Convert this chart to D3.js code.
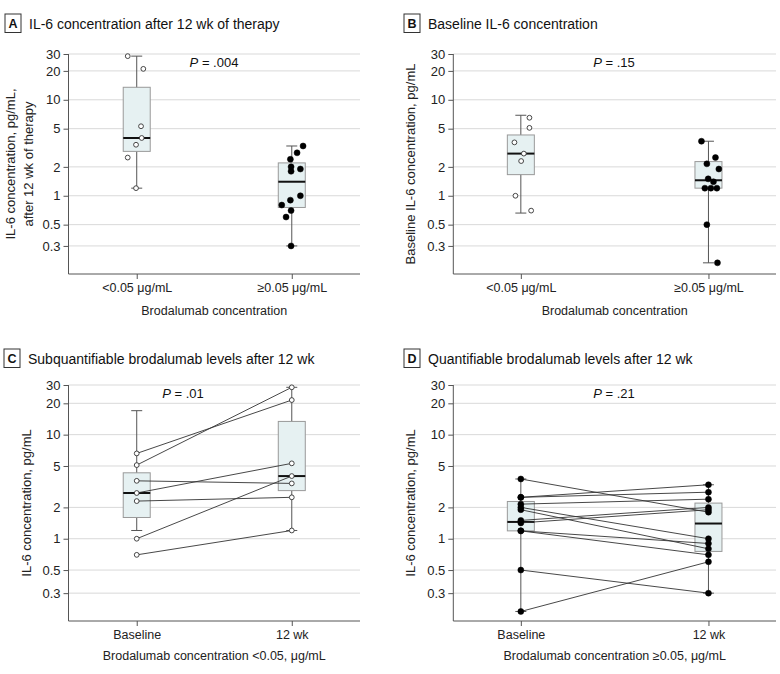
<!DOCTYPE html>
<html><head><meta charset="utf-8">
<script src="https://cdn.jsdelivr.net/npm/d3@7"></script>
<style>
body{margin:0;background:#fff;}
svg{font-family:"Liberation Sans",Arial,sans-serif;}
</style></head><body>
<svg id="chart" width="780" height="674"></svg>
<script>
// ---- shared axis ticks ----
const yTicks = [0.3, 0.5, 1, 2, 5, 10, 20, 30];
const yTickLabels = ["0.3", "0.5", "1", "2", "5", "10", "20", "30"];

// ---- Panel A: IL-6 after 12 wk by brodalumab concentration ----
const catsA = ["<0.05 μg/mL", "≥0.05 μg/mL"];
const aLowValues = [28.5, 21, 5.3, 4.0, 3.4, 2.5, 1.2];
const aLowJitter = [-9, 6.6, 4.3, 5, -0.7, -9, -0.7];
const aHighValues = [3.3, 2.8, 2.4, 2.0, 1.9, 1.8, 1.0, 0.9, 0.8, 0.7, 0.6, 0.3];
const aHighJitter = [11.3, 5.3, -1.4, -0.7, 8.6, -0.7, 8.6, -1.4, -10, -0.7, -5.7, -0.7];
// box stats: [whisker low, Q1, median, Q3, whisker high]
const aLowBox = [1.2, 2.9, 4.0, 13.5, 28.5];
const aHighBox = [0.3, 0.755, 1.4, 2.2, 3.3];

// ---- Panel B: baseline IL-6 ----
const catsB = ["<0.05 μg/mL", "≥0.05 μg/mL"];
const bLowValues = [6.5, 5.1, 3.6, 2.75, 2.3, 1.0, 0.7];
const bLowJitter = [8.6, 8.6, -6.4, 3, 0.3, -5.4, 10.3];
const bHighValues = [3.7, 2.5, 2.15, 1.9, 1.5, 1.4, 1.2, 1.2, 1.2, 0.5, 0.2];
const bHighJitter = [-7, 7, -1.6, 10.4, -0.3, 5, -3.6, 2.4, 8.4, -1.6, 9];
const bLowBox = [0.66, 1.66, 2.75, 4.3, 6.9];
const bHighBox = [0.2, 1.2, 1.45, 2.27, 3.7];

// ---- Panel C: subquantifiable, paired ----
const catsC = ["Baseline", "12 wk"];
const cBaseline = [6.6, 5.1, 3.6, 2.75, 2.3, 1.0, 0.7];
const c12wk = [21.5, 28.5, 3.4, 5.3, 2.5, 4.0, 1.2];
const cBaseBox = [1.2, 1.6, 2.75, 4.3, 17];
const c12Box = [1.2, 2.9, 4.0, 13.4, 28.5];

// ---- Panel D: quantifiable, paired ----
const catsD = ["Baseline", "12 wk"];
const dBaseline = [3.75, 2.5, 2.5, 2.15, 2.0, 1.9, 1.5, 1.42, 1.19, 1.19, 0.5, 0.2];
const d12wk = [1.8, 3.3, 2.8, 2.4, 1.0, 0.8, 2.0, 1.9, 0.9, 0.7, 0.3, 0.6];
const dBaseBox = [0.2, 1.19, 1.45, 2.28, 3.75];
const d12Box = [0.3, 0.755, 1.4, 2.2, 3.3];

const svg = d3.select("#chart");

function panel(cfg) {
  const g = svg.append("g");
  const x = d3.scalePoint().domain(cfg.cats).range([cfg.left, cfg.right]).padding(cfg.pad);
  const y = d3.scaleLog().domain([cfg.yMin, 30]).range([cfg.bottom, cfg.top]);

  // label box + title
  g.append("rect").attr("x", cfg.boxX).attr("y", cfg.boxY).attr("width", 16).attr("height", 18.5)
    .attr("fill", "#fff").attr("stroke", "#333").attr("stroke-width", 1);
  g.append("text").attr("x", cfg.boxX + 8).attr("y", cfg.boxY + 14).attr("text-anchor", "middle")
    .attr("font-weight", "bold").attr("font-size", 12.5).attr("fill", "#111").text(cfg.letter);
  g.append("text").attr("x", cfg.boxX + 24).attr("y", cfg.boxY + 14.5)
    .attr("font-size", 14).attr("fill", "#111").text(cfg.title);

  // gridlines
  g.selectAll(".grid").data(yTicks).join("line")
    .attr("x1", cfg.left).attr("x2", cfg.right)
    .attr("y1", d => y(d)).attr("y2", d => y(d))
    .attr("stroke", "#d9d9d9").attr("stroke-width", 1);

  // y axis
  const ya = g.append("g").attr("transform", `translate(${cfg.left},0)`)
    .call(d3.axisLeft(y).tickValues(yTicks).tickFormat((d, i) => yTickLabels[i]).tickSize(5).tickPadding(3));
  ya.select(".domain").remove();
  ya.selectAll("line").attr("stroke", "#555");
  ya.selectAll("text").attr("font-size", 13).attr("fill", "#222").attr("font-family", "Liberation Sans, Arial, sans-serif");
  g.append("line").attr("x1", cfg.left).attr("x2", cfg.left).attr("y1", y(30)).attr("y2", cfg.bottom)
    .attr("stroke", "#555");

  // x axis
  const xa = g.append("g").attr("transform", `translate(0,${cfg.bottom})`)
    .call(d3.axisBottom(x).tickSize(5).tickPadding(4));
  xa.select(".domain").remove();
  xa.selectAll("line").attr("stroke", "#555");
  xa.selectAll("text").attr("font-size", 12.5).attr("fill", "#222").attr("font-family", "Liberation Sans, Arial, sans-serif");
  g.append("line").attr("x1", cfg.left).attr("x2", cfg.right).attr("y1", cfg.bottom).attr("y2", cfg.bottom)
    .attr("stroke", "#555");

  // axis titles
  g.append("text").attr("x", (cfg.left + cfg.right) / 2).attr("y", cfg.bottom + cfg.xTitleDy)
    .attr("text-anchor", "middle").attr("font-size", 12.5).attr("fill", "#222").text(cfg.xTitle);
  const yt = g.append("text").attr("transform", `translate(${cfg.yTitleX},${(cfg.top + cfg.bottom) / 2}) rotate(-90)`)
    .attr("text-anchor", "middle").attr("font-size", 13).attr("fill", "#222");
  cfg.yTitle.forEach((t, i) => yt.append("tspan").attr("x", 0).attr("dy", i === 0 ? 0 : 18).text(t));

  // P value
  const pt = g.append("text").attr("x", cfg.pX).attr("y", y(30) + 13).attr("text-anchor", "middle")
    .attr("font-size", 13).attr("fill", "#111");
  pt.append("tspan").attr("font-style", "italic").text("P");
  pt.append("tspan").text(" = " + cfg.p);

  // boxes
  const bw = 27;
  cfg.boxes.forEach((b, i) => {
    const cx = x(cfg.cats[i]);
    const [lo, q1, med, q3, hi] = b;
    g.append("line").attr("x1", cx).attr("x2", cx).attr("y1", y(hi)).attr("y2", y(lo))
      .attr("stroke", "#555").attr("stroke-width", 1);
    [lo, hi].forEach(v => g.append("line").attr("x1", cx - 5.5).attr("x2", cx + 5.5)
      .attr("y1", y(v)).attr("y2", y(v)).attr("stroke", "#555"));
    g.append("rect").attr("x", cx - bw / 2).attr("y", y(q3)).attr("width", bw).attr("height", y(q1) - y(q3))
      .attr("fill", "#e6f1f2").attr("stroke", "#999").attr("stroke-width", 1);
    g.append("line").attr("x1", cx - bw / 2).attr("x2", cx + bw / 2).attr("y1", y(med)).attr("y2", y(med))
      .attr("stroke", "#111").attr("stroke-width", 2);
  });

  // paired lines
  if (cfg.pairs) {
    const [a, b] = cfg.pairs;
    g.selectAll(".pair").data(a).join("line")
      .attr("x1", x(cfg.cats[0])).attr("x2", x(cfg.cats[1]))
      .attr("y1", d => y(d)).attr("y2", (d, i) => y(b[i]))
      .attr("stroke", "#333").attr("stroke-width", 0.9);
  }

  // points
  cfg.points.forEach(ps => {
    const cx = x(cfg.cats[ps.cat]);
    g.selectAll(null).data(ps.values).join("circle")
      .attr("cx", (d, i) => cx + (ps.jitter ? ps.jitter[i] : 0))
      .attr("cy", d => y(d))
      .attr("r", ps.filled ? 3 : 2.4)
      .attr("fill", ps.filled ? "#000" : "#fff")
      .attr("stroke", ps.filled ? "#000" : "#333")
      .attr("stroke-width", ps.filled ? 0.5 : 0.9);
  });
}

panel({
  letter: "A", title: "IL-6 concentration after 12 wk of therapy", boxX: 5, boxY: 14,
  cats: catsA, left: 68.5, right: 360, pad: 0.44, top: 54, bottom: 274, yMin: 0.153,
  xTitle: "Brodalumab concentration", xTitleDy: 41,
  yTitle: ["IL-6 concentration, pg/mL,", "after 12 wk of therapy"], yTitleX: 15,
  pX: 214, p: ".004",
  boxes: [aLowBox, aHighBox],
  points: [{cat: 0, values: aLowValues, jitter: aLowJitter, filled: false},
           {cat: 1, values: aHighValues, jitter: aHighJitter, filled: true}]
});
panel({
  letter: "B", title: "Baseline IL-6 concentration", boxX: 404, boxY: 14,
  cats: catsB, left: 453.3, right: 776, pad: 0.36, top: 54, bottom: 274, yMin: 0.153,
  xTitle: "Brodalumab concentration", xTitleDy: 41,
  yTitle: ["Baseline IL-6 concentration, pg/mL"], yTitleX: 415,
  pX: 614, p: ".15",
  boxes: [bLowBox, bHighBox],
  points: [{cat: 0, values: bLowValues, jitter: bLowJitter, filled: false},
           {cat: 1, values: bHighValues, jitter: bHighJitter, filled: true}]
});
panel({
  letter: "C", title: "Subquantifiable brodalumab levels after 12 wk", boxX: 4, boxY: 349,
  cats: catsC, left: 68.5, right: 360, pad: 0.44, top: 385, bottom: 621, yMin: 0.162,
  xTitle: "Brodalumab concentration <0.05, μg/mL", xTitleDy: 39,
  yTitle: ["IL-6 concentration, pg/mL"], yTitleX: 31,
  pX: 183, p: ".01",
  boxes: [cBaseBox, c12Box],
  pairs: [cBaseline, c12wk],
  points: [{cat: 0, values: cBaseline, filled: false},
           {cat: 1, values: c12wk, filled: false}]
});
panel({
  letter: "D", title: "Quantifiable brodalumab levels after 12 wk", boxX: 404, boxY: 349,
  cats: catsD, left: 453.3, right: 776, pad: 0.36, top: 385, bottom: 621, yMin: 0.162,
  xTitle: "Brodalumab concentration ≥0.05, μg/mL", xTitleDy: 39,
  yTitle: ["IL-6 concentration, pg/mL"], yTitleX: 415,
  pX: 614, p: ".21",
  boxes: [dBaseBox, d12Box],
  pairs: [dBaseline, d12wk],
  points: [{cat: 0, values: dBaseline, filled: true},
           {cat: 1, values: d12wk, filled: true}]
});
</script>
</body></html>
